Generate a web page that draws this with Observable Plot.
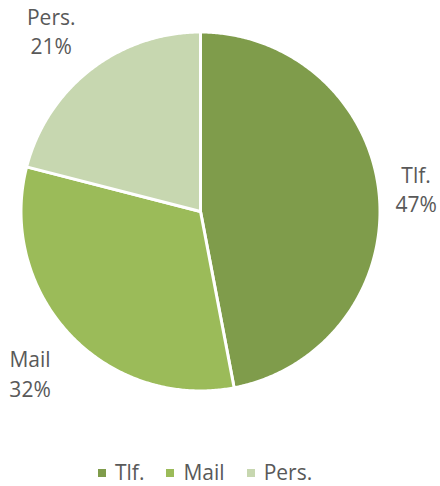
<!DOCTYPE html>
<html>
<head>
<meta charset="utf-8">
<script src="https://cdn.jsdelivr.net/npm/d3@7"></script>
<script src="https://cdn.jsdelivr.net/npm/@observablehq/plot@0.6"></script>
<style>
  html, body { margin: 0; padding: 0; background: #fff; }
  body { width: 440px; height: 486px; overflow: hidden; position: relative; font-family: "Open Sans", sans-serif; }
  #chart svg { display: block; }
  #legend { position: absolute; left: 98px; top: 457px; display: flex; align-items: center; height: 30px; line-height: 30px;
    font-size: 21px; color: #595959; white-space: nowrap; }
  #legend .item { display: flex; align-items: center; margin-right: 22px; }
  #legend .sw { width: 8px; height: 8px; margin-right: 9px; margin-top: 1px; }
</style>
</head>
<body>
<div id="chart"></div>
<div id="legend"></div>
<script>
const categories = ["Tlf.", "Mail", "Pers."];
const shares = [47, 32, 21];
const colors = ["#7f9c4b", "#9bbb59", "#c7d7b0"];

const pie = d3.pie().sort(null).value(d => d.value);
const arcs = pie(categories.map((c, i) => ({key: c, value: shares[i]})));

// slice outlines (center -> arc -> center) in unit-circle coordinates
const pts = [];
for (const a of arcs) {
  const key = a.data.key;
  pts.push({key, x: 0, y: 0});
  const n = Math.max(2, Math.ceil((a.endAngle - a.startAngle) / (Math.PI / 360)));
  for (let k = 0; k <= n; k++) {
    const t = a.startAngle + (a.endAngle - a.startAngle) * k / n;
    pts.push({key, x: Math.sin(t), y: Math.cos(t)});
  }
  pts.push({key, x: 0, y: 0});
}

const cx = 200, cy = 211, R = 179.5;
// outside-end labels: anchor just outside the rim, label box pushed outward
const clamp = v => Math.max(-1, Math.min(1, v));
const labels = arcs.map(a => {
  const m = (a.startAngle + a.endAngle) / 2;
  const s = Math.sin(m), c = Math.cos(m);
  const ra = (R + 12) / R;
  const hw = (24 + 10 * Math.abs(c)) / R, hh = 30 / R;
  return {
    text: `${a.data.key}\n${a.data.value}%`,
    x: ra * s + hw * clamp(s / 0.55),
    y: ra * c + hh * clamp(c / 0.55)
  };
});

const plot = Plot.plot({
  width: 440,
  height: 452,
  margin: 0,
  x: {domain: [-1, 1], range: [cx - R, cx + R], axis: null},
  y: {domain: [-1, 1], range: [cy + R, cy - R], axis: null},
  color: {domain: categories, range: colors},
  style: {fontFamily: "Open Sans, sans-serif", background: "white"},
  marks: [
    Plot.line(pts, {x: "x", y: "y", z: "key", fill: "key", stroke: "white", strokeWidth: 3, strokeLinejoin: "round"}),
    Plot.text(labels, {x: "x", y: "y", text: "text", fontSize: 21, fill: "#595959", lineHeight: 1.4, textAnchor: "middle", lineAnchor: "middle"})
  ]
});
document.getElementById("chart").appendChild(plot);

const leg = document.getElementById("legend");
categories.forEach((c, i) => {
  const it = document.createElement("div");
  it.className = "item";
  const sw = document.createElement("div");
  sw.className = "sw";
  sw.style.background = colors[i];
  const tx = document.createElement("span");
  tx.textContent = c;
  it.appendChild(sw); it.appendChild(tx);
  leg.appendChild(it);
});
</script>
</body>
</html>
